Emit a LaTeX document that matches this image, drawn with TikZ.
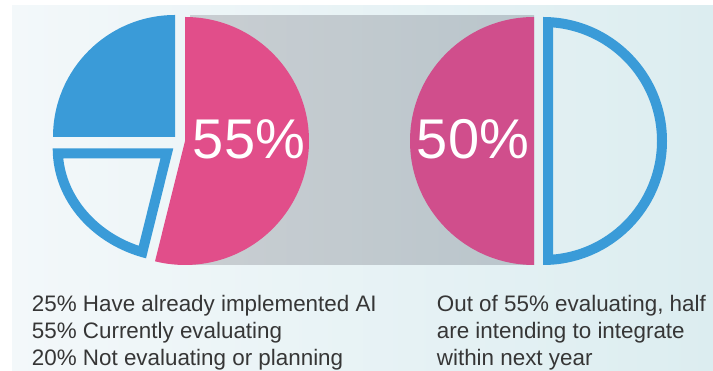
\documentclass[tikz,border=0pt]{standalone}
\usepackage{fontspec}
\setmainfont{Liberation Sans}
\usepackage{xcolor}

\definecolor{aiblue}{HTML}{3A9BD8}
\definecolor{pinkleft}{HTML}{E14E8A}
\definecolor{pinkright}{HTML}{D04E8C}
\definecolor{panelleft}{HTML}{F3F8FA}
\definecolor{panelright}{HTML}{DCEDF0}
\definecolor{greyleft}{HTML}{C9CED2}
\definecolor{greyright}{HTML}{B9C5CB}
\definecolor{textgrey}{HTML}{363636}

\begin{document}
\begin{tikzpicture}[x=1pt, y=1pt,
    bigpct/.style={text=white, inner sep=0pt, font=\fontsize{56}{56}\selectfont},
    bodytext/.style={text=textgrey, inner sep=0pt, anchor=base west, font=\fontsize{22.4}{27}\selectfont},
    ringline/.style={draw=aiblue, line width=20pt}]

    \useasboundingbox (0,0) rectangle (713,371);
    \fill[white] (0,0) rectangle (713,371);

    % Light background panel
    \shade[left color=panelleft, right color=panelright] (12,0) rectangle (713,365);

    % Grey band between the two pies
    \shade[left color=greyleft, right color=greyright] (190,106) rectangle (534,355);

    % First pie (all answers)
    \begin{scope}[shift={(178,229)}]
        % Already implemented (blue)
        \fill[aiblue] (-3,5) -- ++(0,122) arc[start angle=90, end angle=180, radius=122] -- cycle;

        % Currently evaluating (pink)
        \fill[pinkleft] (7,1) -- ++(0,124) arc[start angle=90, end angle=-104, radius=124] -- cycle;

        % Not evaluating (outline only)
        \coordinate (ev0) at (-4.7,-6.3);
        \coordinate (ev1) at (-125.3,-6.3);
        \coordinate (ev2) at (-32,-116.3);
        \begin{scope}
            \clip (ev0) -- (ev1) .. controls (-125.3,-60) and (-84.1,-103.3) .. (ev2) -- cycle;
            \draw[ringline] (ev0) -- (ev1) .. controls (-125.3,-60) and (-84.1,-103.3) .. (ev2) -- cycle;
        \end{scope}
    \end{scope}

    % Second pie (split of the evaluating group)
    \begin{scope}[shift={(538.5,230)}]
        % Intending to integrate (pink)
        \fill[pinkright] (-4.5,124) arc[start angle=90, end angle=270, radius=124] -- cycle;

        % Other half (outline only)
        \begin{scope}
            \clip (4.5,-124) arc[start angle=-90, end angle=90, radius=124] -- cycle;
            \draw[ringline] (4.5,-124) arc[start angle=-90, end angle=90, radius=124] -- cycle;
        \end{scope}
    \end{scope}

    % Percentages on the pink slices
    \node[bigpct] (pctleft) at (249,232) {55\%};
    \node[bigpct] (pctright) at (473,232) {50\%};

    % Legend under the first pie
    \node[bodytext] (lineA) at (31.7,59.3) {25\% Have already implemented AI};
    \node[bodytext] (lineB) at (31.7,32.3) {55\% Currently evaluating};
    \node[bodytext] (lineC) at (31.7,5.3) {20\% Not evaluating or planning};

    % Note under the second pie
    \node[bodytext] (noteA) at (436.7,59.3) {Out of 55\% evaluating, half};
    \node[bodytext] (noteB) at (436.7,32.3) {are intending to integrate};
    \node[bodytext] (noteC) at (436.7,5.3) {within next year};
\end{tikzpicture}
\end{document}
